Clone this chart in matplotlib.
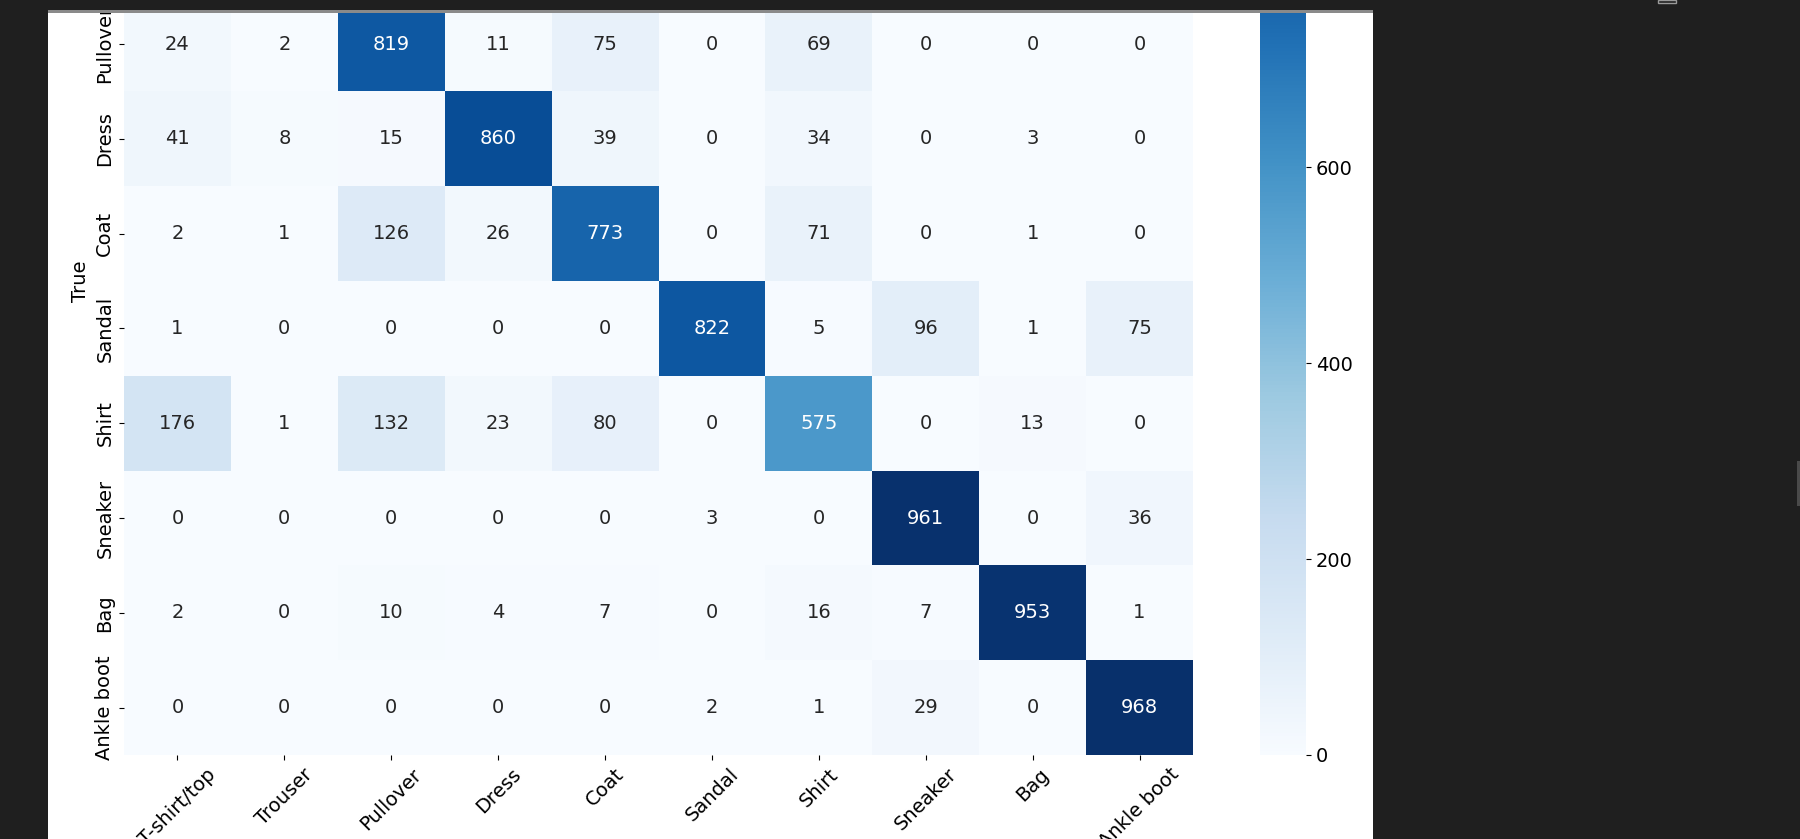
import numpy as np
import matplotlib
matplotlib.use("Agg")
import matplotlib.pyplot as plt
import seaborn as sns
from matplotlib.patches import Rectangle

# rótulos das classes (Fashion-MNIST)
classes = ['T-shirt/top', 'Trouser', 'Pullover', 'Dress', 'Coat',
           'Sandal', 'Shirt', 'Sneaker', 'Bag', 'Ankle boot']

# linhas da matriz de confusão (verdadeiro x previsto)
linha_tshirt = [802, 2, 22, 45, 6, 1, 112, 0, 10, 0]
linha_trouser = [3, 964, 1, 24, 4, 0, 4, 0, 0, 0]
linha_pullover = [24, 2, 819, 11, 75, 0, 69, 0, 0, 0]
linha_dress = [41, 8, 15, 860, 39, 0, 34, 0, 3, 0]
linha_coat = [2, 1, 126, 26, 773, 0, 71, 0, 1, 0]
linha_sandal = [1, 0, 0, 0, 0, 822, 5, 96, 1, 75]
linha_shirt = [176, 1, 132, 23, 80, 0, 575, 0, 13, 0]
linha_sneaker = [0, 0, 0, 0, 0, 3, 0, 961, 0, 36]
linha_bag = [2, 0, 10, 4, 7, 0, 16, 7, 953, 1]
linha_ankle = [0, 0, 0, 0, 0, 2, 1, 29, 0, 968]

matriz = np.array([linha_tshirt, linha_trouser, linha_pullover, linha_dress,
                   linha_coat, linha_sandal, linha_shirt, linha_sneaker,
                   linha_bag, linha_ankle])

W, H = 1800, 839
FUNDO = '#1f1f1f'
LINHAS_OCULTAS = 2  # linhas que ficaram acima do recorte da captura

plt.rcParams['font.family'] = ['DejaVu Sans']
plt.rcParams['font.size'] = 14

fig = plt.figure(figsize=(W / 100, H / 100), dpi=100, facecolor=FUNDO)

# área branca da saída do notebook
fig.add_artist(Rectangle((48 / W, 0), (1373 - 48) / W, 1, transform=fig.transFigure,
                         facecolor='white', edgecolor='none', zorder=-5))

# posição do heatmap (parte de cima fica fora da imagem)
topo, base = -193, 755
pos_ax = [124 / W, (H - base) / H, (1193 - 124) / W, (base - topo) / H]
pos_cax = [1260 / W, (H - base) / H, 46 / W, (base - topo) / H]
ax = fig.add_axes(pos_ax)
cax = fig.add_axes(pos_cax)

sns.heatmap(matriz, annot=True, fmt='d', cmap='Blues', ax=ax, cbar_ax=cax,
            xticklabels=classes, yticklabels=classes, annot_kws={'fontsize': 14})
ax.set_position(pos_ax)
cax.set_position(pos_cax)

ax.set_xlabel('Predicted', fontsize=14)
ax.set_ylabel('True', fontsize=14)
plt.setp(ax.get_xticklabels(), rotation=45, ha='center', fontsize=14)
plt.setp(ax.get_yticklabels(), rotation=90, va='center', fontsize=14)
cax.tick_params(labelsize=14)
cax.set_yticks([0, 200, 400, 600])

# textos que ficam inteiramente fora da captura
n_cols = len(classes)
for i, t in enumerate(ax.texts):
    if i // n_cols < LINHAS_OCULTAS:
        t.set_visible(False)
for i, t in enumerate(ax.get_yticklabels()):
    if i < LINHAS_OCULTAS:
        t.set_visible(False)

# barra escura do topo
fig.add_artist(Rectangle((0, (H - 10) / H), 1, 10 / H, transform=fig.transFigure,
                         facecolor=FUNDO, edgecolor='none', zorder=20))
fig.add_artist(Rectangle((48 / W, (H - 13) / H), (1373 - 48) / W, 3 / H,
                         transform=fig.transFigure, facecolor='#8a8a8a',
                         edgecolor='none', zorder=20))
fig.add_artist(Rectangle((1658 / W, (H - 3) / H), 18 / W, 3 / H, transform=fig.transFigure,
                         facecolor='none', edgecolor='#9a9a9a', linewidth=1, zorder=21))
# barra de rolagem à direita
fig.add_artist(Rectangle((1797 / W, (H - 506) / H), 3 / W, 45 / H, transform=fig.transFigure,
                         facecolor='#4a4a4a', edgecolor='none', zorder=20))

fig.savefig('out.png', dpi=100, facecolor=FUNDO)
plt.close(fig)
